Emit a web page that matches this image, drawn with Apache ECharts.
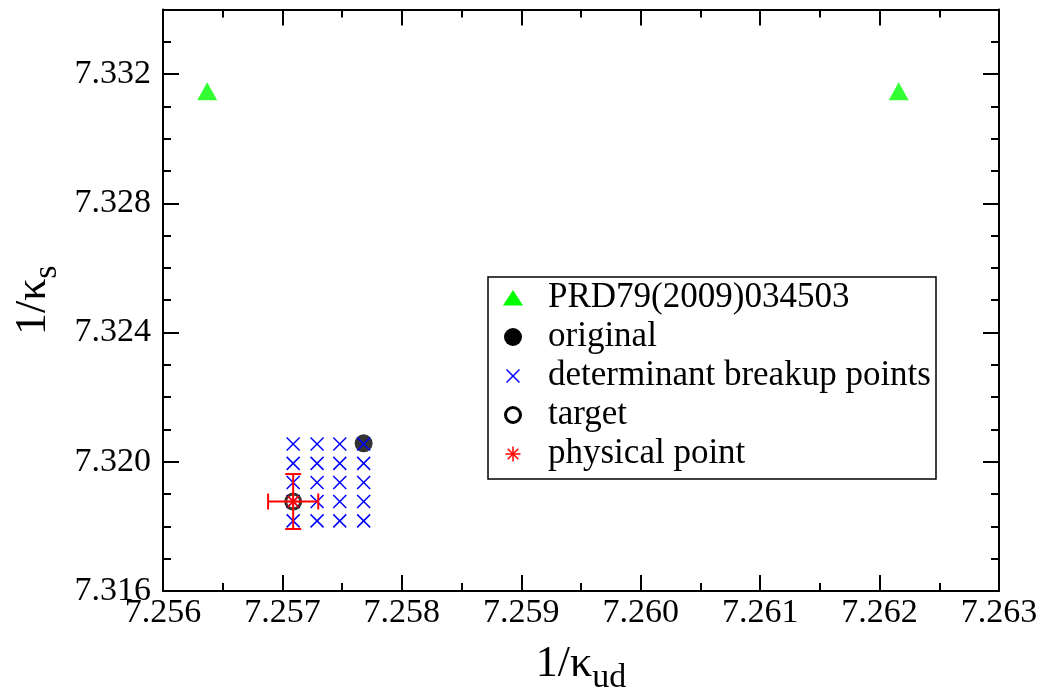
<!DOCTYPE html>
<html>
<head>
<meta charset="utf-8">
<script src="https://cdn.jsdelivr.net/npm/echarts@6/dist/echarts.min.js"></script>
<style>
  html, body { margin: 0; padding: 0; background: #fff; }
  #chart { width: 1045px; height: 691px; }
</style>
</head>
<body>
<div id="chart"></div>
<script>
// ---- data (1/kappa_ud, 1/kappa_s) ----
const prdUd = [7.25637, 7.26216];
const prdS = [7.33147, 7.33147];

const originalUd = [7.25768];
const originalS = [7.32057];

// determinant breakup points lie on a grid of these coordinates
const breakupUd = [7.25709, 7.25729, 7.25748, 7.25768];
const breakupS = [7.32055, 7.31995, 7.31936, 7.31877, 7.31817];

const targetUd = [7.25709];
const targetS = [7.31877];

const physicalUd = [7.25709];
const physicalS = [7.31877];
const physicalUdErr = [0.00021];
const physicalSErr = [0.00085];

const legendLabels = [
  'PRD79(2009)034503',
  'original',
  'determinant breakup points',
  'target',
  'physical point'
];

// axis ticks
const xMin = 7.256, xMax = 7.263, xMajor = 0.001, xMinor = 0.0005;
const yMin = 7.316, yMax = 7.334, yMajor = 0.004, yMinor = 0.001;

const FONT = '"Liberation Serif", "Times New Roman", serif';
const GREEN = '#00ff00', BLUE = '#0000ff', RED = '#ff0000', BLACK = '#000000';

const zip = (a, b) => a.map((v, i) => [v, b[i]]);
const breakupPoints = [];
breakupS.forEach(s => breakupUd.forEach(u => breakupPoints.push([u, s])));

const chart = echarts.init(document.getElementById('chart'), null, { renderer: 'canvas' });

function isMultiple(v, step) {
  const r = v / step;
  return Math.abs(r - Math.round(r)) < 1e-6;
}

function axisPair(dim, position, isMain) {
  const isX = dim === 'x';
  const min = isX ? xMin : yMin, max = isX ? xMax : yMax;
  const major = isX ? xMajor : yMajor, minor = isX ? xMinor : yMinor;
  const base = {
    type: 'value', min: min, max: max, position: position,
    splitLine: { show: false }, scale: true
  };
  const majorAxis = Object.assign({}, base, {
    interval: major,
    axisLine: { show: true, onZero: false, lineStyle: { color: BLACK, width: 2 } },
    axisTick: { show: true, inside: true, length: 16, lineStyle: { color: BLACK, width: 2 } },
    axisLabel: {
      show: isMain,
      inside: false,
      margin: isX ? 5 : 12,
      color: BLACK, fontFamily: FONT, fontSize: 34,
      showMinLabel: true, showMaxLabel: true,
      formatter: v => isMultiple(v, major) ? v.toFixed(3) : ''
    }
  });
  const minorAxis = Object.assign({}, base, {
    interval: minor,
    axisLine: { show: false, onZero: false },
    axisTick: { show: true, inside: true, length: 8, lineStyle: { color: BLACK, width: 2 } },
    axisLabel: { show: false }
  });
  return [majorAxis, minorAxis];
}

const xAxes = [...axisPair('x', 'bottom', true), ...axisPair('x', 'top', false)];
const yAxes = [...axisPair('y', 'left', true), ...axisPair('y', 'right', false)];

// axis titles with subscripts
const titleRich = {
  a: { fontFamily: FONT, fontSize: 44, lineHeight: 44, color: BLACK, verticalAlign: 'top' },
  b: { fontFamily: FONT, fontSize: 34, lineHeight: 34, color: BLACK, padding: [26, 0, 0, 0] }
};
Object.assign(xAxes[0], {
  name: '{a|1/\u03ba}{b|ud}', nameLocation: 'middle', nameGap: 33,
  nameTextStyle: { rich: titleRich }
});
Object.assign(yAxes[0], {
  name: '{a|1/\u03ba}{b|s}', nameLocation: 'middle', nameGap: 84,
  nameTextStyle: { rich: titleRich }
});

function crossItem(params, api) {
  const p = api.coord([api.value(0), api.value(1)]);
  const h = 6.5;
  const st = { stroke: BLUE, lineWidth: 1.5 };
  return {
    type: 'group',
    children: [
      { type: 'line', shape: { x1: p[0] - h, y1: p[1] - h, x2: p[0] + h, y2: p[1] + h }, style: st },
      { type: 'line', shape: { x1: p[0] - h, y1: p[1] + h, x2: p[0] + h, y2: p[1] - h }, style: st }
    ]
  };
}

function asteriskLines(cx, cy, r, color, width) {
  const d = r * Math.SQRT1_2;
  const st = { stroke: color, lineWidth: width };
  return [
    { type: 'line', shape: { x1: cx, y1: cy - r, x2: cx, y2: cy + r }, style: st },
    { type: 'line', shape: { x1: cx - r, y1: cy, x2: cx + r, y2: cy }, style: st },
    { type: 'line', shape: { x1: cx - d, y1: cy - d, x2: cx + d, y2: cy + d }, style: st },
    { type: 'line', shape: { x1: cx - d, y1: cy + d, x2: cx + d, y2: cy - d }, style: st }
  ];
}

function physicalItem(params, api) {
  const x = api.value(0), y = api.value(1), dx = api.value(2), dy = api.value(3);
  const c = api.coord([x, y]);
  const l = api.coord([x - dx, y]);
  const r = api.coord([x + dx, y]);
  const t = api.coord([x, y + dy]);
  const b = api.coord([x, y - dy]);
  const cap = 8;
  const st = { stroke: RED, lineWidth: 2 };
  return {
    type: 'group',
    children: [
      { type: 'line', shape: { x1: l[0], y1: l[1], x2: r[0], y2: r[1] }, style: st },
      { type: 'line', shape: { x1: t[0], y1: t[1], x2: b[0], y2: b[1] }, style: st },
      { type: 'line', shape: { x1: l[0], y1: l[1] - cap, x2: l[0], y2: l[1] + cap }, style: st },
      { type: 'line', shape: { x1: r[0], y1: r[1] - cap, x2: r[0], y2: r[1] + cap }, style: st },
      { type: 'line', shape: { x1: t[0] - cap, y1: t[1], x2: t[0] + cap, y2: t[1] }, style: st },
      { type: 'line', shape: { x1: b[0] - cap, y1: b[1], x2: b[0] + cap, y2: b[1] }, style: st },
      ...asteriskLines(c[0], c[1], 8, RED, 1.5)
    ]
  };
}

// legend box, drawn as a graphic group
const LG = { x: 488, y: 277, w: 448, h: 202, iconX: 513, textX: 548, firstRow: 298, rowGap: 39 };
const legendIcons = [
  (cx, cy) => [{ type: 'polygon', shape: { points: [[cx, cy - 8], [cx + 10, cy + 7.5], [cx - 10, cy + 7.5]] }, style: { fill: GREEN } }],
  (cx, cy) => [{ type: 'circle', shape: { cx: cx, cy: cy, r: 9 }, style: { fill: BLACK } }],
  (cx, cy) => [
    { type: 'line', shape: { x1: cx - 6.5, y1: cy - 6.5, x2: cx + 6.5, y2: cy + 6.5 }, style: { stroke: BLUE, lineWidth: 1.5 } },
    { type: 'line', shape: { x1: cx - 6.5, y1: cy + 6.5, x2: cx + 6.5, y2: cy - 6.5 }, style: { stroke: BLUE, lineWidth: 1.5 } }
  ],
  (cx, cy) => [{ type: 'circle', shape: { cx: cx, cy: cy, r: 7.5 }, style: { fill: 'none', stroke: BLACK, lineWidth: 3 } }],
  (cx, cy) => asteriskLines(cx, cy, 7.5, RED, 1.5)
];
const legendChildren = [
  { type: 'rect', shape: { x: LG.x, y: LG.y, width: LG.w, height: LG.h }, style: { fill: '#fff', stroke: BLACK, lineWidth: 1.5 } }
];
legendLabels.forEach((label, i) => {
  const cy = LG.firstRow + i * LG.rowGap;
  legendChildren.push(...legendIcons[i](LG.iconX, cy));
  legendChildren.push({
    type: 'text', x: LG.textX, y: cy,
    style: { text: label, fontFamily: FONT, fontSize: 35, fill: BLACK, textVerticalAlign: 'middle', textAlign: 'left' }
  });
});

chart.setOption({
  animation: false,
  backgroundColor: '#fff',
  grid: { left: 163, right: 46, top: 9.5, bottom: 100, containLabel: false, outerBoundsMode: 'none' },
  xAxis: xAxes,
  yAxis: yAxes,
  series: [
    {
      name: legendLabels[0], type: 'scatter', data: zip(prdUd, prdS),
      symbol: 'triangle', symbolSize: [20, 18], itemStyle: { color: GREEN }, z: 3
    },
    {
      name: legendLabels[1], type: 'scatter', data: zip(originalUd, originalS),
      symbol: 'circle', symbolSize: 18, itemStyle: { color: BLACK }, z: 3
    },
    {
      name: legendLabels[2], type: 'custom', data: breakupPoints,
      encode: { x: 0, y: 1 }, renderItem: crossItem, z: 4
    },
    {
      name: legendLabels[3], type: 'scatter', data: zip(targetUd, targetS),
      symbol: 'circle', symbolSize: 15,
      itemStyle: { color: 'rgba(0,0,0,0)', borderColor: BLACK, borderWidth: 3 }, z: 5
    },
    {
      name: legendLabels[4], type: 'custom',
      data: physicalUd.map((u, i) => [u, physicalS[i], physicalUdErr[i], physicalSErr[i]]),
      encode: { x: 0, y: 1 }, renderItem: physicalItem, z: 6
    }
  ],
  graphic: [{ type: 'group', children: legendChildren, z: 100 }]
});
</script>
</body>
</html>
